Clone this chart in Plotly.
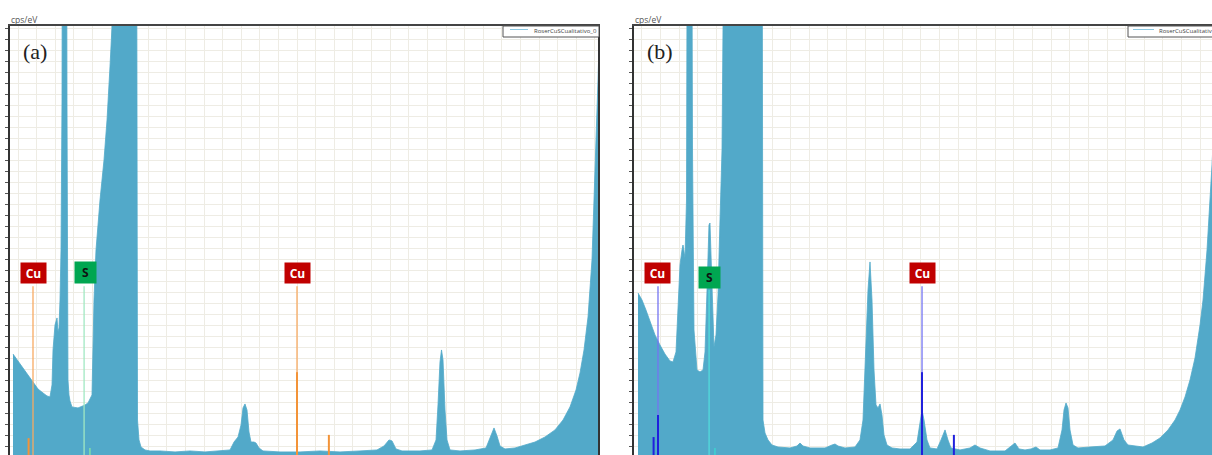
import plotly.graph_objects as go

# ---------------- data ----------------
# panel (a): energy (keV) and intensity (cps/eV, arbitrary grid units)
energy_a = [0.391, 0.526, 0.660, 0.795, 0.930, 1.065, 1.200, 1.307, 1.388, 1.442,
            1.469, 1.523, 1.577, 1.604, 1.631, 1.658, 1.685, 1.712, 1.725, 1.833,
            1.846, 1.873, 1.900, 1.927, 1.981, 2.143, 2.332, 2.412, 2.520, 2.547,
            2.574, 2.628, 2.736, 2.844, 2.925, 3.005, 3.059, 3.086, 3.720, 3.747,
            3.787, 3.841, 3.949, 4.084, 4.353, 4.758, 5.162, 5.566, 5.970, 6.240,
            6.348, 6.456, 6.537, 6.590, 6.644, 6.698, 6.752, 6.806, 6.887, 6.941,
            7.022, 7.129, 7.588, 8.127, 8.666, 9.205, 9.744, 10.202, 10.391, 10.526,
            10.607, 10.714, 10.876, 11.361, 11.685, 11.793, 11.846, 11.900, 11.941, 11.981,
            12.035, 12.089, 12.170, 12.439, 12.844, 13.140, 13.248, 13.356, 13.437, 13.518,
            13.652, 13.922, 14.191, 14.461, 14.731, 15.000, 15.216, 15.404, 15.566, 15.674,
            15.782, 15.890, 15.997, 16.078, 16.159, 16.25]
counts_a = [9.45, 8.82, 8.27, 7.55, 6.91, 6.27, 5.91, 5.64, 5.55, 6.64,
            9.82, 12.09, 12.73, 11.45, 11.82, 14.36, 18.91, 32.55, 60.0, 60.0,
            32.55, 7.09, 5.73, 5.18, 4.64, 4.55, 4.82, 5.0, 5.73, 9.82,
            14.36, 18.91, 23.45, 27.09, 30.73, 35.55, 39.18, 60.0, 60.0, 3.45,
            1.64, 1.0, 0.73, 0.64, 0.64, 0.55, 0.64, 0.55, 0.64, 0.73,
            1.45, 1.91, 3.0, 4.55, 4.91, 4.36, 2.36, 1.45, 1.45, 1.36,
            0.91, 0.64, 0.55, 0.55, 0.64, 0.55, 0.64, 0.73, 1.09, 1.64,
            1.55, 0.82, 0.64, 0.64, 0.73, 1.64, 4.82, 8.73, 9.82, 8.91,
            4.36, 1.64, 0.73, 0.64, 0.73, 0.91, 1.82, 2.73, 2.0, 1.09,
            0.82, 0.91, 1.18, 1.45, 1.91, 2.55, 3.45, 4.64, 6.18, 7.73,
            9.82, 12.82, 18.0, 25.27, 34.36, 45.0]

# panel (b)
energy_b = [0.391, 0.499, 0.606, 0.714, 0.849, 0.984, 1.118, 1.253, 1.334, 1.415,
            1.469, 1.523, 1.577, 1.604, 1.658, 1.698, 1.725, 1.833, 1.860, 1.900,
            1.981, 2.062, 2.143, 2.197, 2.251, 2.304, 2.331, 2.372, 2.412, 2.439,
            2.493, 2.547, 2.601, 2.655, 2.682, 2.695, 3.733, 3.760, 3.814, 3.895,
            4.003, 4.164, 4.488, 4.676, 4.757, 4.838, 5.027, 5.431, 5.620, 5.701,
            5.782, 5.970, 6.240, 6.374, 6.455, 6.536, 6.590, 6.644, 6.698, 6.752,
            6.806, 6.860, 6.914, 6.967, 7.021, 7.102, 7.237, 7.453, 7.722, 7.911,
            7.992, 8.046, 8.100, 8.180, 8.261, 8.450, 8.558, 8.666, 8.746, 8.827,
            9.070, 9.339, 9.474, 9.609, 9.878, 10.283, 10.418, 10.552, 10.660, 10.822,
            10.984, 11.118, 11.226, 11.496, 11.711, 11.819, 11.873, 11.927, 11.981, 12.035,
            12.116, 12.250, 12.574, 12.978, 13.194, 13.302, 13.383, 13.490, 13.598, 13.787,
            14.002, 14.245, 14.461, 14.676, 14.865, 15.000, 15.135, 15.269, 15.404, 15.539,
            15.620, 15.728, 15.862, 16.0]
counts_b = [15.0, 14.36, 13.45, 12.36, 11.18, 10.27, 9.45, 8.82, 8.73, 9.64,
            14.36, 17.55, 18.91, 19.36, 18.18, 23.45, 60.0, 60.0, 28.0, 11.64,
            8.0, 7.82, 8.0, 9.64, 15.27, 21.18, 21.36, 17.09, 11.18, 10.09,
            11.18, 14.82, 21.64, 28.0, 39.09, 60.0, 60.0, 3.45, 2.27, 1.64,
            1.18, 1.0, 0.91, 1.09, 1.36, 1.09, 0.91, 0.91, 1.18, 1.27,
            1.09, 0.91, 1.0, 1.64, 3.45, 9.82, 15.27, 17.82, 14.36, 8.0,
            4.82, 4.55, 4.91, 3.91, 2.09, 1.18, 0.91, 0.82, 0.82, 1.45,
            3.27, 4.36, 3.45, 1.64, 0.91, 0.82, 1.64, 2.55, 1.64, 0.91,
            0.73, 0.91, 1.18, 0.91, 0.64, 0.64, 1.0, 1.36, 0.82, 0.73,
            0.82, 1.0, 0.73, 0.73, 0.91, 2.55, 4.36, 5.0, 4.55, 2.55,
            1.18, 0.91, 1.0, 1.09, 1.64, 2.45, 2.64, 1.64, 1.18, 1.09,
            1.0, 1.36, 1.82, 2.55, 3.45, 4.36, 5.55, 7.09, 9.09, 12.09,
            14.36, 18.91, 26.64, 36.0]

# element marker lines (keV) and heights
cu_label_energy = [0.930, 8.046]
s_label_energy = [2.307]
cu_peak_energy = [0.811, 0.930, 8.046, 8.905]
cu_peak_height_a = [1.8, 0.0, 7.8, 2.1]
cu_peak_height_b = [1.9, 3.9, 7.8, 2.1]
s_peak_energy = [2.464]
s_peak_height = [0.9]
label_line_top_a = 15.6
label_line_top_b_cu = 15.6
label_line_top_b_s = 15.3

legend_text_a = "RoserCuSCualitativo_0"
legend_text_b = "RoserCuSCualitativ"   # visible part in panel (b), cut by the page edge
panel_labels = ["(a)", "(b)"]
y_title = "cps/eV"

# ---------------- layout helpers ----------------
W, H = 1212, 455
TOP = 26
PH = H - TOP


def xp(px):
    return px / W


def yp(py):
    return (H - py) / PH


FILL = "#52a9c9"
GRID = "#eeece4"

fig = go.Figure()

panels = [
    dict(x=energy_a, y=counts_a, xa="x", ya="y",
         cu_thin="#f8aa62", cu_thick="#f39338", s_thin="#a0e8c2", s_thick="#7fdcaa",
         cu_h=cu_peak_height_a, s_top=label_line_top_a, cu_top=label_line_top_a),
    dict(x=energy_b, y=counts_b, xa="x2", ya="y2",
         cu_thin="#7474f2", cu_thick="#2020dc", s_thin="#52dcdc", s_thick="#3fd0d0",
         cu_h=cu_peak_height_b, s_top=label_line_top_b_s, cu_top=label_line_top_b_cu),
]

for p in panels:
    fig.add_trace(go.Scatter(x=p["x"], y=p["y"], xaxis=p["xa"], yaxis=p["ya"],
                             mode="lines", line=dict(color=FILL, width=0.8),
                             fill="tozeroy", fillcolor=FILL, showlegend=False,
                             hoverinfo="skip"))
    for e in cu_label_energy:
        fig.add_trace(go.Scatter(x=[e, e], y=[0, p["cu_top"]], xaxis=p["xa"], yaxis=p["ya"],
                                 mode="lines", line=dict(color=p["cu_thin"], width=1.3),
                                 showlegend=False, hoverinfo="skip"))
    for e in s_label_energy:
        fig.add_trace(go.Scatter(x=[e, e], y=[0, p["s_top"]], xaxis=p["xa"], yaxis=p["ya"],
                                 mode="lines", line=dict(color=p["s_thin"], width=1.3),
                                 showlegend=False, hoverinfo="skip"))
    for e, h in zip(cu_peak_energy, p["cu_h"]):
        if h > 0:
            fig.add_trace(go.Scatter(x=[e, e], y=[0, h], xaxis=p["xa"], yaxis=p["ya"],
                                     mode="lines", line=dict(color=p["cu_thick"], width=2),
                                     showlegend=False, hoverinfo="skip"))
    for e, h in zip(s_peak_energy, s_peak_height):
        fig.add_trace(go.Scatter(x=[e, e], y=[0, h], xaxis=p["xa"], yaxis=p["ya"],
                                 mode="lines", line=dict(color=p["s_thick"], width=1.6),
                                 showlegend=False, hoverinfo="skip"))

xcommon = dict(side="top", showline=True, linecolor="#444", linewidth=2,
               showgrid=True, gridcolor=GRID, gridwidth=1, dtick=0.5016,
               ticks="", showticklabels=False, zeroline=False, fixedrange=True)
ycommon = dict(domain=[0, 1], range=[0.27, 39.27], dtick=1, tick0=0,
               showgrid=True, gridcolor=GRID, gridwidth=1, ticks="outside",
               ticklen=3, tickcolor="#555", tickwidth=1, showticklabels=False,
               showline=True, linecolor="#333", linewidth=2, zeroline=False)

fig.update_layout(
    width=W, height=H,
    margin=dict(l=0, r=0, t=TOP, b=0),
    paper_bgcolor="white", plot_bgcolor="white",
    xaxis=dict(domain=[xp(10), xp(598)], range=[0.310, 16.159], tick0=0.526,
               anchor="y", **xcommon),
    xaxis2=dict(domain=[xp(634), 1.0], range=[0.283, 15.862], tick0=10.525,
                anchor="y2", **xcommon),
    yaxis=dict(anchor="x", mirror=True, **ycommon),
    yaxis2=dict(anchor="x2", mirror=False, **ycommon),
)

shapes = []
annotations = []
for (x0, x1, lx0, lx1, tx, txt, ax_lbl, ax, lbl) in [
        (503, 599, 510, 528, 533, legend_text_a, 21, 10, panel_labels[0]),
        (1128, 1240, 1133, 1154, 1158, legend_text_b, 645, 634, panel_labels[1])]:
    shapes.append(dict(type="rect", xref="paper", yref="paper",
                       x0=xp(x0), x1=xp(x1), y0=yp(37), y1=yp(26), fillcolor="white",
                       line=dict(color="#555", width=1), layer="above"))
    shapes.append(dict(type="line", xref="paper", yref="paper",
                       x0=xp(lx0), x1=xp(lx1), y0=yp(29.5), y1=yp(29.5),
                       line=dict(color="#8cc8e2", width=1), layer="above"))
    annotations.append(dict(text=txt, xref="paper", yref="paper",
                            x=xp(tx), y=yp(30.5), xanchor="left", yanchor="middle",
                            showarrow=False, font=dict(size=6, color="#444",
                                                       family="Open Sans"),
                            borderpad=0))
    annotations.append(dict(text=y_title, xref="paper", yref="paper",
                            x=xp(ax), y=1.0, xanchor="left", yanchor="bottom",
                            showarrow=False, borderpad=0,
                            font=dict(size=8.5, color="#555", family="Open Sans")))
    annotations.append(dict(text=lbl, xref="paper", yref="paper", x=xp(ax_lbl), y=yp(52),
                            xanchor="left", yanchor="middle", showarrow=False,
                            font=dict(size=22, color="#222", family="Liberation Serif")))

for xa, ya, s_y, s_shift in [("x", "y", 16.82, 1), ("x2", "y2", 16.45, 0)]:
    for e in cu_label_energy:
        annotations.append(dict(text="<b>Cu</b>", xref=xa, yref=ya, x=e, y=16.82,
                                showarrow=False, bgcolor="#c00000", width=21, height=16,
                                borderpad=2, font=dict(size=12, color="white",
                                                       family="Open Sans")))
    for e in s_label_energy:
        annotations.append(dict(text="<b>S</b>", xref=xa, yref=ya, x=e, y=s_y,
                                xshift=s_shift, showarrow=False, bgcolor="#00a651",
                                width=17, height=17, borderpad=2,
                                font=dict(size=12, color="#111", family="Open Sans")))

fig.update_layout(shapes=shapes, annotations=annotations)

fig.write_html("out.html")
